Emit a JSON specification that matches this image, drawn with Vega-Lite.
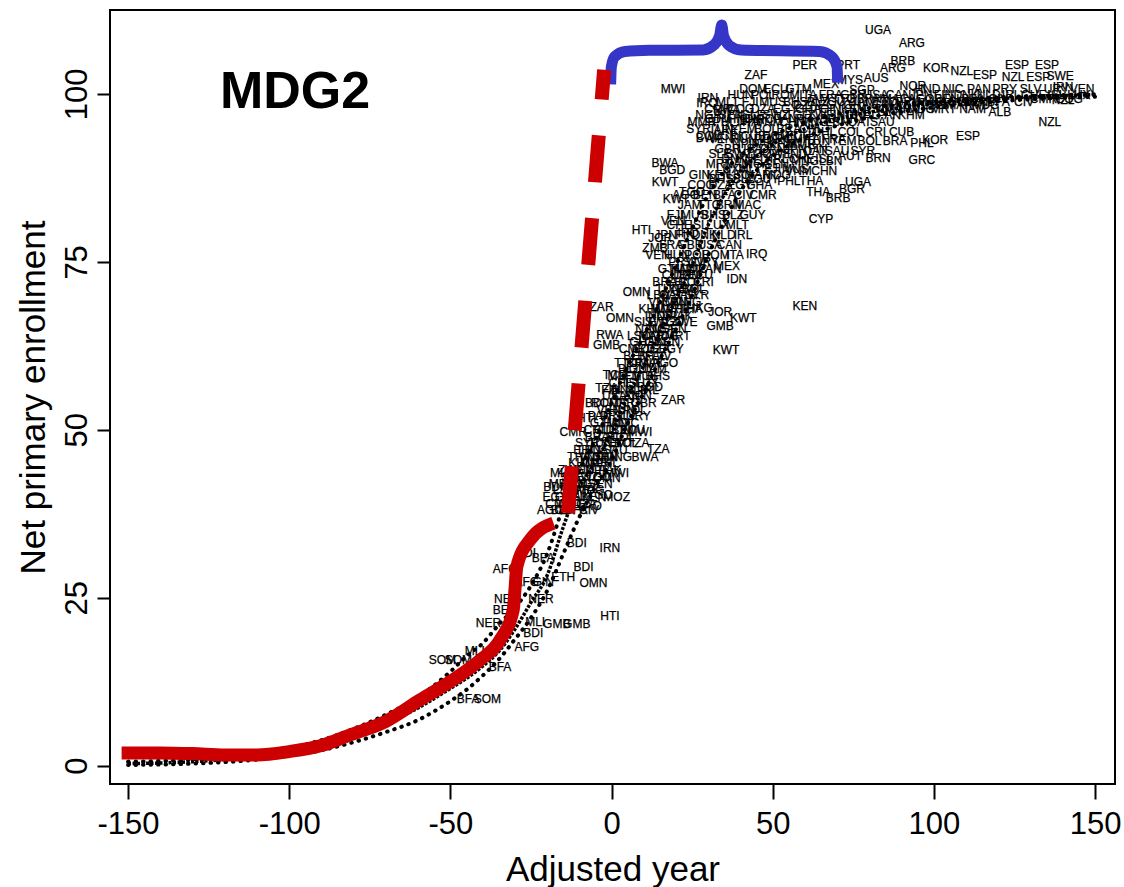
{
"$schema": "https://vega.github.io/schema/vega-lite/v6.json",
"width": 1005, "height": 774,
"autosize": {"type": "none"},
"padding": {"left": 110, "top": 10, "right": 9, "bottom": 103},
"background": "white",
"config": {"view": {"stroke": "black", "strokeWidth": 2}, "font": "Liberation Sans"},
"datasets": {
"labels": [
{"t":"UGA","x":82.7,"y":109.5},{"t":"ARG","x":93.2,"y":107.6},{"t":"BRB","x":90.4,"y":104.9},{"t":"ARG","x":87.3,"y":103.9},{"t":"KOR","x":100.7,"y":103.9},{"t":"NZL","x":108.7,"y":103.4},{"t":"ESP","x":115.9,"y":102.8},{"t":"ESP","x":125.8,"y":104.3},{"t":"ESP","x":135.1,"y":104.3},{"t":"NZL","x":124.6,"y":102.5},{"t":"ESP","x":132.4,"y":102.5},{"t":"SWE","x":139.2,"y":102.7},{"t":"PER","x":60.0,"y":104.3},{"t":"PRT","x":73.4,"y":104.3},{"t":"ZAF","x":44.8,"y":102.8},{"t":"MEX","x":66.5,"y":101.5},{"t":"MYS","x":74.0,"y":102.1},{"t":"AUS","x":82.1,"y":102.4},{"t":"NOR","x":93.5,"y":101.2},{"t":"MWI","x":19.1,"y":100.7},{"t":"IRN","x":29.9,"y":99.4},{"t":"IRQ","x":29.6,"y":98.7},{"t":"RWA","x":35.8,"y":97.6},{"t":"SGP","x":77.7,"y":100.6},{"t":"ALB","x":120.5,"y":97.3},{"t":"NZL","x":136.0,"y":95.8},{"t":"NZL","x":140.1,"y":99.1},{"t":"IRN","x":140.1,"y":101.0},{"t":"ESP","x":110.6,"y":93.7},{"t":"KOR","x":100.4,"y":93.2},{"t":"PHL","x":96.3,"y":92.7},{"t":"GRC","x":96.3,"y":90.2},{"t":"BRN","x":82.7,"y":90.5},{"t":"AUT","x":74.0,"y":90.8},{"t":"UGA","x":76.5,"y":86.9},{"t":"BGR","x":74.6,"y":85.9},{"t":"BRB","x":70.3,"y":84.5},{"t":"THA","x":64.1,"y":85.4},{"t":"CYP","x":65.0,"y":81.4},{"t":"KWT","x":16.6,"y":86.9},{"t":"KWT","x":20.0,"y":84.4},{"t":"TGO","x":25.0,"y":85.4},{"t":"BWA","x":16.6,"y":89.7},{"t":"BGD","x":18.8,"y":88.7},{"t":"BWA","x":30.3,"y":93.5},{"t":"ARE","x":35.5,"y":94.6},{"t":"BHR","x":43.6,"y":96.1},{"t":"HTI","x":9.3,"y":79.8},{"t":"JOR","x":15.1,"y":78.6},{"t":"ZMB","x":13.5,"y":77.0},{"t":"VEN","x":19.2,"y":81.1},{"t":"IRQ","x":23.8,"y":79.3},{"t":"IRQ","x":45.0,"y":76.2},{"t":"IDN","x":38.9,"y":72.5},{"t":"MEX","x":35.8,"y":74.4},{"t":"KEN","x":60.0,"y":68.4},{"t":"ZAR","x":-3.1,"y":68.3},{"t":"OMN","x":7.8,"y":70.5},{"t":"OMN","x":2.6,"y":66.7},{"t":"RWA","x":-0.5,"y":64.1},{"t":"GMB","x":-1.5,"y":62.6},{"t":"HKG","x":27.4,"y":68.2},{"t":"JOR","x":33.7,"y":67.6},{"t":"KWT","x":40.9,"y":66.7},{"t":"GMB","x":33.7,"y":65.4},{"t":"KWT","x":35.5,"y":61.9},{"t":"TCD","x":1.1,"y":58.2},{"t":"TZA","x":-1.5,"y":56.2},{"t":"BGD","x":11.9,"y":56.4},{"t":"ZAR","x":19.1,"y":54.4},{"t":"BDI","x":-5.1,"y":54.0},{"t":"HTI","x":-7.7,"y":51.7},{"t":"MWI","x":8.8,"y":49.7},{"t":"TZA","x":8.3,"y":48.0},{"t":"TZA","x":14.5,"y":47.1},{"t":"BWA","x":10.4,"y":46.0},{"t":"CMR","x":-11.9,"y":49.7},{"t":"ERI","x":-8.8,"y":47.0},{"t":"MWI","x":1.6,"y":43.5},{"t":"OMN","x":-1.5,"y":42.8},{"t":"MLI","x":-16.0,"y":43.5},{"t":"BDI","x":-18.1,"y":41.5},{"t":"MOZ","x":1.6,"y":40.0},{"t":"TGO","x":-3.6,"y":40.3},{"t":"LAO","x":-6.7,"y":38.6},{"t":"IRN","x":-0.5,"y":32.4},{"t":"BDI","x":-10.8,"y":33.1},{"t":"BDI","x":-8.7,"y":29.6},{"t":"OMN","x":-5.6,"y":27.2},{"t":"ETH","x":-15.0,"y":28.1},{"t":"HTI","x":-0.5,"y":22.3},{"t":"AFG","x":-33.0,"y":29.3},{"t":"NER","x":-32.5,"y":24.8},{"t":"NER","x":-21.9,"y":24.8},{"t":"NER","x":-38.2,"y":21.3},{"t":"MLI","x":-23.7,"y":21.4},{"t":"GMB","x":-17.0,"y":21.1},{"t":"GMB","x":-10.8,"y":21.1},{"t":"BDI","x":-24.3,"y":19.8},{"t":"AFG","x":-26.3,"y":17.6},{"t":"MLI","x":-42.4,"y":17.0},{"t":"SOM","x":-52.5,"y":15.8},{"t":"SOM","x":-47.5,"y":15.8},{"t":"BFA","x":-34.6,"y":14.7},{"t":"BFA","x":-44.5,"y":9.9},{"t":"SOM","x":-38.5,"y":9.9},{"t":"BEN","x":-33.0,"y":23.2},{"t":"BFA","x":-21.2,"y":30.9},{"t":"BDI","x":-26.5,"y":31.6},{"t":"AFG","x":-26.3,"y":27.4},{"t":"GIN","x":-21.2,"y":27.4},
{"t":"AGO","x":-19,"y":38},{"t":"BEN","x":-15,"y":38},{"t":"BFA","x":-11,"y":38},{"t":"CIV","x":-7,"y":38},
{"t":"CMR","x":-16.3,"y":39},{"t":"COG","x":-12.3,"y":39},{"t":"DZA","x":-8.3,"y":39},
{"t":"EGY","x":-17.5,"y":40},{"t":"GHA","x":-13.5,"y":40},{"t":"GIN","x":-9.5,"y":40},{"t":"KEN","x":-5.5,"y":40},
{"t":"LSO","x":-14.5,"y":41},{"t":"MAR","x":-10.5,"y":41},{"t":"MDG","x":-6.5,"y":41},
{"t":"MRT","x":-15.5,"y":42},{"t":"NAM","x":-11.5,"y":42},{"t":"NGA","x":-7.5,"y":42},{"t":"SEN","x":-3.5,"y":42},
{"t":"SLE","x":-12,"y":43},{"t":"SWZ","x":-8,"y":43},{"t":"TGO","x":-4,"y":43},
{"t":"ZWE","x":-12.5,"y":44},{"t":"IND","x":-8.5,"y":44},{"t":"NPL","x":-4.5,"y":44},{"t":"PAK","x":-0.5,"y":44},
{"t":"KHM","x":-9.3,"y":45},{"t":"MMR","x":-5.3,"y":45},{"t":"PHL","x":-1.3,"y":45},
{"t":"THA","x":-10,"y":46},{"t":"VNM","x":-6,"y":46},{"t":"CHN","x":-2,"y":46},{"t":"MNG","x":2,"y":46},
{"t":"LBN","x":-6.8,"y":47},{"t":"QAT","x":-2.8,"y":47},{"t":"SAU","x":1.2,"y":47},
{"t":"SYR","x":-7.5,"y":48},{"t":"TUN","x":-3.5,"y":48},{"t":"YEM","x":0.5,"y":48},{"t":"BOL","x":4.5,"y":48},
{"t":"BRA","x":-4.5,"y":49},{"t":"CHL","x":-0.5,"y":49},{"t":"COL","x":3.5,"y":49},
{"t":"CRI","x":-5.5,"y":50},{"t":"CUB","x":-1.5,"y":50},{"t":"DOM","x":2.5,"y":50},{"t":"ECU","x":6.5,"y":50},
{"t":"GTM","x":-2.6,"y":51},{"t":"HND","x":1.4,"y":51},{"t":"NIC","x":5.4,"y":51},
{"t":"PAN","x":-3.7,"y":52},{"t":"PRY","x":0.3,"y":52},{"t":"SLV","x":4.3,"y":52},{"t":"URY","x":8.3,"y":52},
{"t":"VEN","x":-0.8,"y":53},{"t":"HUN","x":3.2,"y":53},{"t":"POL","x":7.2,"y":53},
{"t":"ROM","x":-2,"y":54},{"t":"ITA","x":2,"y":54},{"t":"FRA","x":6,"y":54},{"t":"GBR","x":10,"y":54},
{"t":"USA","x":0.9,"y":55},{"t":"CAN","x":4.9,"y":55},{"t":"JPN","x":8.9,"y":55},
{"t":"FIN","x":-0.2,"y":56},{"t":"DNK","x":3.8,"y":56},{"t":"NLD","x":7.8,"y":56},{"t":"IRL","x":11.8,"y":56},
{"t":"CHE","x":3,"y":57},{"t":"ISL","x":7,"y":57},{"t":"LUX","x":11,"y":57},
{"t":"MLT","x":2.3,"y":58},{"t":"FJI","x":6.3,"y":58},{"t":"MUS","x":10.3,"y":58},{"t":"BHS","x":14.3,"y":58},
{"t":"BLZ","x":5.4,"y":59},{"t":"GUY","x":9.4,"y":59},{"t":"JAM","x":13.4,"y":59},
{"t":"TTO","x":4.5,"y":60},{"t":"BRN","x":8.5,"y":60},{"t":"MAC","x":12.5,"y":60},{"t":"AGO","x":16.5,"y":60},
{"t":"BEN","x":7.5,"y":61},{"t":"BFA","x":11.5,"y":61},{"t":"CIV","x":15.5,"y":61},
{"t":"CMR","x":6.5,"y":62},{"t":"COG","x":10.5,"y":62},{"t":"DZA","x":14.5,"y":62},{"t":"EGY","x":18.5,"y":62},
{"t":"GHA","x":9.5,"y":63},{"t":"GIN","x":13.5,"y":63},{"t":"KEN","x":17.5,"y":63},
{"t":"LSO","x":8.5,"y":64},{"t":"MAR","x":12.5,"y":64},{"t":"MDG","x":16.5,"y":64},{"t":"MRT","x":20.5,"y":64},
{"t":"NAM","x":11.5,"y":65},{"t":"NGA","x":15.5,"y":65},{"t":"SEN","x":19.5,"y":65},
{"t":"SLE","x":10.5,"y":66},{"t":"SWZ","x":14.5,"y":66},{"t":"TGO","x":18.5,"y":66},{"t":"ZWE","x":22.5,"y":66},
{"t":"IND","x":13.5,"y":67},{"t":"NPL","x":17.5,"y":67},{"t":"PAK","x":21.5,"y":67},
{"t":"KHM","x":12.5,"y":68},{"t":"MMR","x":16.5,"y":68},{"t":"PHL","x":20.5,"y":68},{"t":"THA","x":24.5,"y":68},
{"t":"VNM","x":15.5,"y":69},{"t":"CHN","x":19.5,"y":69},{"t":"MNG","x":23.5,"y":69},
{"t":"LBN","x":14.5,"y":70},{"t":"QAT","x":18.5,"y":70},{"t":"SAU","x":22.5,"y":70},{"t":"SYR","x":26.5,"y":70},
{"t":"TUN","x":17.5,"y":71},{"t":"YEM","x":21.5,"y":71},{"t":"BOL","x":25.5,"y":71},
{"t":"BRA","x":16.5,"y":72},{"t":"CHL","x":20.5,"y":72},{"t":"COL","x":24.5,"y":72},{"t":"CRI","x":28.5,"y":72},
{"t":"CUB","x":19.5,"y":73},{"t":"DOM","x":23.5,"y":73},{"t":"ECU","x":27.5,"y":73},
{"t":"GTM","x":18.5,"y":74},{"t":"HND","x":22.5,"y":74},{"t":"NIC","x":26.5,"y":74},{"t":"PAN","x":30.5,"y":74},
{"t":"PRY","x":21.4,"y":75},{"t":"SLV","x":25.4,"y":75},{"t":"URY","x":29.4,"y":75},
{"t":"VEN","x":14.3,"y":76},{"t":"HUN","x":20.3,"y":76},{"t":"POL","x":26.3,"y":76},{"t":"ROM","x":32.3,"y":76},{"t":"ITA","x":38.3,"y":76},
{"t":"FRA","x":18.5,"y":77.5},{"t":"GBR","x":24.5,"y":77.5},{"t":"USA","x":30.5,"y":77.5},{"t":"CAN","x":36.5,"y":77.5},
{"t":"JPN","x":16.8,"y":79},{"t":"FIN","x":22.8,"y":79},{"t":"DNK","x":28.8,"y":79},{"t":"NLD","x":34.8,"y":79},{"t":"IRL","x":40.8,"y":79},
{"t":"CHE","x":21,"y":80.5},{"t":"ISL","x":27,"y":80.5},{"t":"LUX","x":33,"y":80.5},{"t":"MLT","x":39,"y":80.5},
{"t":"FJI","x":19.7,"y":82},{"t":"MUS","x":25.7,"y":82},{"t":"BHS","x":31.7,"y":82},{"t":"BLZ","x":37.7,"y":82},{"t":"GUY","x":43.7,"y":82},
{"t":"JAM","x":24.3,"y":83.5},{"t":"TTO","x":30.3,"y":83.5},{"t":"BRN","x":36.3,"y":83.5},{"t":"MAC","x":42.3,"y":83.5},
{"t":"AGO","x":23,"y":85},{"t":"BEN","x":29,"y":85},{"t":"BFA","x":35,"y":85},{"t":"CIV","x":41,"y":85},{"t":"CMR","x":47,"y":85},
{"t":"COG","x":27.8,"y":86.5},{"t":"DZA","x":33.8,"y":86.5},{"t":"EGY","x":39.8,"y":86.5},{"t":"GHA","x":45.8,"y":86.5},
{"t":"GIN","x":27.3,"y":88},{"t":"KEN","x":33.3,"y":88},{"t":"LSO","x":39.3,"y":88},{"t":"MAR","x":45.3,"y":88},{"t":"MDG","x":51.3,"y":88},
{"t":"MRT","x":33.2,"y":89.5},{"t":"NAM","x":39.2,"y":89.5},{"t":"NGA","x":45.2,"y":89.5},{"t":"SEN","x":51.2,"y":89.5},
{"t":"SLE","x":33.6,"y":91},{"t":"SWZ","x":39.6,"y":91},{"t":"TGO","x":45.6,"y":91},{"t":"ZWE","x":51.6,"y":91},{"t":"IND","x":57.6,"y":91},
{"t":"NPL","x":41,"y":92.5},{"t":"PAK","x":47,"y":92.5},{"t":"KHM","x":53,"y":92.5},{"t":"MMR","x":59,"y":92.5},
{"t":"PHL","x":55,"y":87},{"t":"THA","x":62,"y":87},
{"t":"VNM","x":58,"y":88.5},{"t":"CHN","x":66,"y":88.5},
{"t":"MNG","x":60,"y":90},{"t":"LBN","x":68,"y":90},
{"t":"QAT","x":63,"y":91.5},{"t":"SAU","x":70,"y":91.5},{"t":"SYR","x":78,"y":91.5},
{"t":"TUN","x":64,"y":93},{"t":"YEM","x":72,"y":93},{"t":"BOL","x":80,"y":93},{"t":"BRA","x":88,"y":93},
{"t":"CHL","x":66,"y":94.3},{"t":"COL","x":74,"y":94.3},{"t":"CRI","x":82,"y":94.3},{"t":"CUB","x":90,"y":94.3},
{"t":"DOM","x":44,"y":100.8},{"t":"ECU","x":51,"y":100.8},{"t":"GTM","x":58,"y":100.8},{"t":"HND","x":98,"y":100.8},{"t":"NIC","x":106,"y":100.8},{"t":"PAN","x":114,"y":100.8},{"t":"PRY","x":122,"y":100.8},{"t":"SLV","x":130,"y":100.8},{"t":"URY","x":138,"y":100.8},{"t":"VEN","x":146,"y":100.8},
{"t":"HUN","x":40,"y":99.8},{"t":"POL","x":47,"y":99.8},{"t":"ROM","x":54,"y":99.8},{"t":"ITA","x":61,"y":99.8},{"t":"FRA","x":68,"y":99.8},{"t":"GBR","x":75,"y":99.8},{"t":"USA","x":82,"y":99.8},{"t":"CAN","x":89,"y":99.8},{"t":"JPN","x":96,"y":99.8},{"t":"FIN","x":103,"y":99.8},{"t":"DNK","x":110,"y":99.8},{"t":"NLD","x":117,"y":99.8},{"t":"IRL","x":124,"y":99.8},{"t":"CHE","x":131,"y":99.8},{"t":"ISL","x":138,"y":99.8},{"t":"LUX","x":145,"y":99.8},
{"t":"MLT","x":36,"y":98.8},{"t":"FJI","x":43,"y":98.8},{"t":"MUS","x":50,"y":98.8},{"t":"BHS","x":57,"y":98.8},{"t":"BLZ","x":64,"y":98.8},{"t":"GUY","x":71,"y":98.8},{"t":"JAM","x":78,"y":98.8},{"t":"TTO","x":85,"y":98.8},{"t":"BRN","x":92,"y":98.8},{"t":"MAC","x":99,"y":98.8},{"t":"AGO","x":106,"y":98.8},{"t":"BEN","x":113,"y":98.8},{"t":"BFA","x":120,"y":98.8},{"t":"CIV","x":128,"y":98.8},
{"t":"CMR","x":33,"y":97.8},{"t":"COG","x":40,"y":97.8},{"t":"DZA","x":47,"y":97.8},{"t":"EGY","x":54,"y":97.8},{"t":"GHA","x":61,"y":97.8},{"t":"GIN","x":68,"y":97.8},{"t":"KEN","x":75,"y":97.8},{"t":"LSO","x":82,"y":97.8},{"t":"MAR","x":89,"y":97.8},{"t":"MDG","x":96,"y":97.8},{"t":"MRT","x":103,"y":97.8},{"t":"NAM","x":112,"y":97.8},
{"t":"NGA","x":30,"y":96.8},{"t":"SEN","x":37,"y":96.8},{"t":"SLE","x":44,"y":96.8},{"t":"SWZ","x":51,"y":96.8},{"t":"TGO","x":58,"y":96.8},{"t":"ZWE","x":65,"y":96.8},{"t":"IND","x":72,"y":96.8},{"t":"NPL","x":79,"y":96.8},{"t":"PAK","x":86,"y":96.8},{"t":"KHM","x":93,"y":96.8},
{"t":"MMR","x":28,"y":95.8},{"t":"PHL","x":35,"y":95.8},{"t":"THA","x":42,"y":95.8},{"t":"VNM","x":49,"y":95.8},{"t":"CHN","x":56,"y":95.8},{"t":"MNG","x":63,"y":95.8},{"t":"LBN","x":70,"y":95.8},{"t":"QAT","x":77,"y":95.8},{"t":"SAU","x":84,"y":95.8},
{"t":"SYR","x":27,"y":94.8},{"t":"TUN","x":34,"y":94.8},{"t":"YEM","x":41,"y":94.8},{"t":"BOL","x":48,"y":94.8},{"t":"BRA","x":55,"y":94.8},{"t":"CHL","x":62,"y":94.8},
{"t":"COL","x":30,"y":93.8},{"t":"CRI","x":37,"y":93.8},{"t":"CUB","x":44,"y":93.8},{"t":"DOM","x":51,"y":93.8},{"t":"ECU","x":58,"y":93.8},
{"t":"GTM","x":33,"y":96.3},{"t":"HND","x":40,"y":96.3},{"t":"NIC","x":47,"y":96.3},{"t":"PAN","x":54,"y":96.3},{"t":"PRY","x":61,"y":96.3},{"t":"SLV","x":68,"y":96.3},{"t":"URY","x":75,"y":96.3},
{"t":"VEN","x":34,"y":93.3},{"t":"HUN","x":41,"y":93.3},{"t":"POL","x":48,"y":93.3},{"t":"ROM","x":55,"y":93.3},{"t":"ITA","x":62,"y":93.3},{"t":"FRA","x":69,"y":93.3},
{"t":"GBR","x":36,"y":91.8},{"t":"USA","x":43,"y":91.8},{"t":"CAN","x":50,"y":91.8},{"t":"JPN","x":57,"y":91.8},{"t":"FIN","x":64,"y":91.8},
{"t":"DNK","x":38,"y":90.3},{"t":"NLD","x":45,"y":90.3},{"t":"IRL","x":52,"y":90.3},{"t":"CHE","x":59,"y":90.3},{"t":"ISL","x":66,"y":90.3},
{"t":"LUX","x":36,"y":88.8},{"t":"MLT","x":43,"y":88.8},{"t":"FJI","x":50,"y":88.8},{"t":"MUS","x":57,"y":88.8},
{"t":"BHS","x":34,"y":87.3},{"t":"BLZ","x":41,"y":87.3},{"t":"GUY","x":48,"y":87.3},
{"t":"JAM","x":64,"y":99.3},{"t":"TTO","x":72,"y":99.3},{"t":"BRN","x":80,"y":99.3},{"t":"MAC","x":88,"y":99.3},{"t":"AGO","x":96,"y":99.3},{"t":"BEN","x":104,"y":99.3},{"t":"BFA","x":112,"y":99.3},{"t":"CIV","x":120,"y":99.3},{"t":"CMR","x":134,"y":99.3},{"t":"COG","x":142,"y":99.3},
{"t":"DZA","x":60,"y":98.3},{"t":"EGY","x":68,"y":98.3},{"t":"GHA","x":76,"y":98.3},{"t":"GIN","x":84,"y":98.3},{"t":"KEN","x":92,"y":98.3},{"t":"LSO","x":100,"y":98.3},{"t":"MAR","x":108,"y":98.3},{"t":"MDG","x":116,"y":98.3}
],
"mid": [
{"o":0,"x":-150,"y":0.3},{"o":1,"x":-140,"y":0.4},{"o":2,"x":-130,"y":0.6},{"o":3,"x":-120,"y":0.9},{"o":4,"x":-110,"y":1.3},{"o":5,"x":-100,"y":2},{"o":6,"x":-90,"y":3},{"o":7,"x":-80,"y":4.5},{"o":8,"x":-70,"y":6.3},{"o":9,"x":-60,"y":8.6},{"o":10,"x":-50,"y":11.5},{"o":11,"x":-45,"y":13},{"o":12,"x":-40,"y":14.8},{"o":13,"x":-35,"y":17},{"o":14,"x":-30,"y":20.3},{"o":15,"x":-25,"y":24.3},{"o":16,"x":-20,"y":28.3},{"o":17,"x":-15,"y":35.5},{"o":18,"x":-12,"y":39.5},{"o":19,"x":-6,"y":44.5},{"o":20,"x":0,"y":49.5},{"o":21,"x":5,"y":55},{"o":22,"x":10,"y":59.5},{"o":23,"x":15,"y":64.5},{"o":24,"x":20,"y":69.5},{"o":25,"x":25,"y":74.5},{"o":26,"x":30,"y":80.5},{"o":27,"x":35,"y":85},{"o":28,"x":40,"y":88.5},{"o":29,"x":45,"y":90.8},{"o":30,"x":50,"y":92.5},{"o":31,"x":60,"y":94.8},{"o":32,"x":70,"y":96.3},{"o":33,"x":80,"y":97.3},{"o":34,"x":90,"y":98},{"o":35,"x":100,"y":98.6},{"o":36,"x":110,"y":99},{"o":37,"x":120,"y":99.3},{"o":38,"x":130,"y":99.55},{"o":39,"x":140,"y":99.75},{"o":40,"x":150,"y":99.9}
],
"bands": [
{"s":"hi","o":0,"x":-150,"y":0.6},{"s":"hi","o":1,"x":-130,"y":0.9},{"s":"hi","o":2,"x":-110,"y":1.8},{"s":"hi","o":3,"x":-100,"y":2.6},{"s":"hi","o":4,"x":-90,"y":3.8},{"s":"hi","o":5,"x":-80,"y":5.5},{"s":"hi","o":6,"x":-70,"y":7.6},{"s":"hi","o":7,"x":-60,"y":10.2},{"s":"hi","o":8,"x":-50,"y":14},{"s":"hi","o":9,"x":-45,"y":16.3},{"s":"hi","o":10,"x":-40,"y":18.2},{"s":"hi","o":11,"x":-35,"y":21},{"s":"hi","o":12,"x":-30,"y":23.5},{"s":"hi","o":13,"x":-25,"y":26.8},{"s":"hi","o":14,"x":-20,"y":31.5},{"s":"hi","o":15,"x":-15,"y":38.5},{"s":"hi","o":16,"x":-10,"y":44},{"s":"hi","o":17,"x":-5,"y":48.5},{"s":"hi","o":18,"x":0,"y":54},{"s":"hi","o":19,"x":5,"y":59.5},{"s":"hi","o":20,"x":10,"y":64},{"s":"hi","o":21,"x":15,"y":69},{"s":"hi","o":22,"x":20,"y":74.5},{"s":"hi","o":23,"x":25,"y":80},{"s":"hi","o":24,"x":30,"y":85},{"s":"hi","o":25,"x":35,"y":88.5},{"s":"hi","o":26,"x":40,"y":90.8},{"s":"hi","o":27,"x":50,"y":93.8},{"s":"hi","o":28,"x":60,"y":95.8},{"s":"hi","o":29,"x":70,"y":97},{"s":"hi","o":30,"x":80,"y":97.9},{"s":"hi","o":31,"x":100,"y":98.9},{"s":"hi","o":32,"x":120,"y":99.5},{"s":"hi","o":33,"x":150,"y":99.95},
{"s":"lo","o":0,"x":-150,"y":0.1},{"s":"lo","o":1,"x":-130,"y":0.3},{"s":"lo","o":2,"x":-110,"y":0.9},{"s":"lo","o":3,"x":-100,"y":1.5},{"s":"lo","o":4,"x":-90,"y":2.3},{"s":"lo","o":5,"x":-80,"y":3.5},{"s":"lo","o":6,"x":-70,"y":5},{"s":"lo","o":7,"x":-60,"y":6.8},{"s":"lo","o":8,"x":-50,"y":9.6},{"s":"lo","o":9,"x":-45,"y":11.3},{"s":"lo","o":10,"x":-40,"y":13.4},{"s":"lo","o":11,"x":-35,"y":15.8},{"s":"lo","o":12,"x":-30,"y":18.8},{"s":"lo","o":13,"x":-25,"y":22},{"s":"lo","o":14,"x":-20,"y":26},{"s":"lo","o":15,"x":-15,"y":31.5},{"s":"lo","o":16,"x":-10,"y":37},{"s":"lo","o":17,"x":-5,"y":41.5},{"s":"lo","o":18,"x":0,"y":45.5},{"s":"lo","o":19,"x":5,"y":51},{"s":"lo","o":20,"x":10,"y":55.5},{"s":"lo","o":21,"x":15,"y":60.5},{"s":"lo","o":22,"x":20,"y":65},{"s":"lo","o":23,"x":25,"y":70},{"s":"lo","o":24,"x":30,"y":76},{"s":"lo","o":25,"x":35,"y":81},{"s":"lo","o":26,"x":40,"y":85.5},{"s":"lo","o":27,"x":50,"y":90.8},{"s":"lo","o":28,"x":60,"y":93.5},{"s":"lo","o":29,"x":70,"y":95.3},{"s":"lo","o":30,"x":80,"y":96.5},{"s":"lo","o":31,"x":100,"y":98},{"s":"lo","o":32,"x":120,"y":98.9},{"s":"lo","o":33,"x":150,"y":99.6}
],
"red": [
{"o":0,"x":-152,"y":1.9},{"o":1,"x":-140,"y":1.9},{"o":2,"x":-130,"y":1.8},{"o":3,"x":-120,"y":1.6},{"o":4,"x":-110,"y":1.6},{"o":5,"x":-100,"y":2.1},{"o":6,"x":-90,"y":3},{"o":7,"x":-81,"y":4.6},{"o":8,"x":-70,"y":6.6},{"o":9,"x":-59.4,"y":9.8},{"o":10,"x":-49.1,"y":12.8},{"o":11,"x":-40.8,"y":15.7},{"o":12,"x":-34.6,"y":18.7},{"o":13,"x":-30.5,"y":23.2},{"o":14,"x":-29.9,"y":26.6},{"o":15,"x":-29.4,"y":29.6},{"o":16,"x":-25.3,"y":33.6},{"o":17,"x":-18,"y":36.1}
],
"dash": [
{"o":0,"x":-13.5,"y":37.6},{"o":1,"x":-2.3,"y":103.6}
],
"brace": [
{"o":0,"x":-0.28,"y":101.43},{"o":1,"x":-0.06,"y":104.02},{"o":2,"x":0.99,"y":105.55},{"o":3,"x":4.19,"y":106.33},{"o":4,"x":11.76,"y":106.49},{"o":5,"x":28.39,"y":106.55},{"o":6,"x":31.8,"y":107.3},{"o":7,"x":33.51,"y":108.64},{"o":8,"x":34.19,"y":110.27},{"o":9,"x":34.75,"y":108.64},{"o":10,"x":36.55,"y":107.21},{"o":11,"x":40.18,"y":106.55},{"o":12,"x":64.57,"y":106.33},{"o":13,"x":68.32,"y":105.55},{"o":14,"x":69.97,"y":104.02},{"o":15,"x":70.15,"y":101.68}
],
"title": [{"t":"MDG2","x":-121.5,"y":97.9}]
},
"encoding": {
"x": {"field":"x","type":"quantitative","scale":{"domain":[-155.6,156.2],"nice":false,"zero":false},
 "axis":{"values":[-150,-100,-50,0,50,100,150],"labelExpr":"toString(datum.value)","domain":false,"grid":false,"tickSize":15,"tickWidth":2,"tickColor":"black","labelFontSize":31,"labelFont":"Liberation Sans","labelColor":"black","labelPadding":10,"labelFlush":false,"title":"Adjusted year","titleFont":"Liberation Sans","titleFontSize":35,"titleFontWeight":"normal","titleColor":"black","titlePadding":13}},
"y": {"field":"y","type":"quantitative","scale":{"domain":[-2.73,112.5],"nice":false,"zero":false},
 "axis":{"values":[0,25,50,75,100],"labelExpr":"toString(datum.value)","domain":false,"grid":false,"tickSize":13,"tickWidth":2,"tickColor":"black","labelFontSize":31,"labelFont":"Liberation Sans","labelColor":"black","labelAngle":270,"labelAlign":"center","labelBaseline":"bottom","labelPadding":4,"labelFlush":false,"title":"Net primary enrollment","titleFont":"Liberation Sans","titleFontSize":35,"titleFontWeight":"normal","titleColor":"black","titlePadding":10}}
},
"layer": [
{"data":{"name":"labels"},"mark":{"type":"text","fontSize":12,"font":"Liberation Sans","color":"black","stroke":"black","strokeWidth":0.25},"encoding":{"text":{"field":"t"}}},
{"data":{"name":"bands"},"mark":{"type":"line","color":"black","strokeWidth":4,"strokeDash":[0.5,7],"strokeCap":"round","interpolate":"monotone"},"encoding":{"detail":{"field":"s"},"order":{"field":"o"}}},
{"data":{"name":"mid"},"mark":{"type":"line","color":"black","strokeWidth":3.5,"strokeDash":[3,1.5],"interpolate":"monotone"},"encoding":{"order":{"field":"o"}}},
{"data":{"name":"red"},"mark":{"type":"line","color":"#CC0000","strokeWidth":13,"strokeCap":"butt","interpolate":"monotone"},"encoding":{"order":{"field":"o"}}},
{"data":{"name":"brace"},"mark":{"type":"line","color":"#3535C8","strokeWidth":11,"strokeCap":"butt","interpolate":"monotone"},"encoding":{"order":{"field":"o"}}},
{"data":{"name":"dash"},"mark":{"type":"line","color":"#CC0000","strokeWidth":14,"strokeDash":[47,36],"strokeCap":"butt"},"encoding":{"order":{"field":"o"}}},
{"data":{"name":"title"},"mark":{"type":"text","fontSize":52,"fontWeight":"bold","font":"Liberation Sans","color":"black","align":"left","baseline":"alphabetic"},"encoding":{"text":{"field":"t"}}}
]
}
